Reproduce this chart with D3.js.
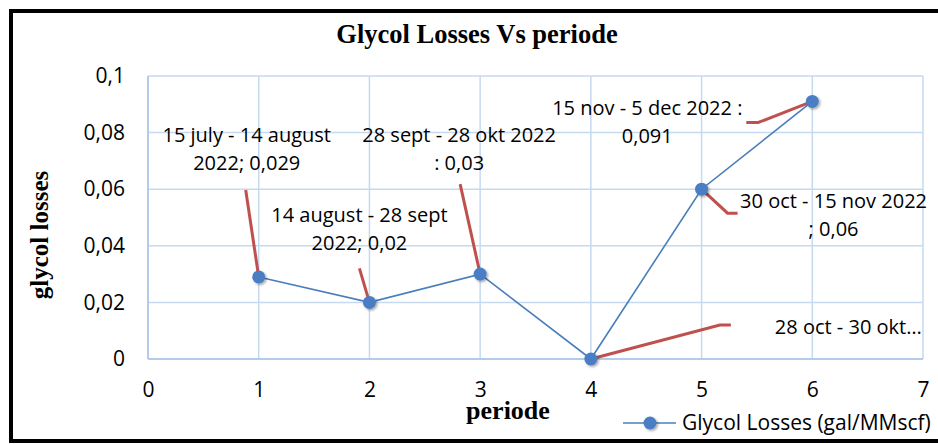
<!DOCTYPE html>
<html>
<head>
<meta charset="utf-8">
<script src="https://cdn.jsdelivr.net/npm/d3@7"></script>
<style>
  body { margin: 0; background: #fff; }
  svg { display: block; }
</style>
</head>
<body>
<svg id="chart" width="938" height="444"></svg>
<script>
// data
const periods = [1, 2, 3, 4, 5, 6]
const losses = [0.029, 0.02, 0.03, 0, 0.06, 0.091]
const labelLines = [
    ["15 july - 14 august", "2022; 0,029"],
    ["14 august - 28 sept", "2022; 0,02"],
    ["28 sept - 28 okt 2022", ": 0,03"],
    ["28 oct - 30 okt…"],
    ["30 oct - 15 nov 2022", "; 0,06"],
    ["15 nov - 5 dec 2022 :", "0,091"]
]
const xTicks = [0, 1, 2, 3, 4, 5, 6, 7]
const yTicks = [0, 0.02, 0.04, 0.06, 0.08, 0.1]

// label placement (offsets from the point, px) and leader line elbows
const labelPos = [
    { dx: -12, dy: -135, lead: [[-13, -87]] },
    { dx: -10, dy: -80, lead: [[-10, -34]] },
    { dx: -21, dy: -132, lead: [[-20, -90]] },
    { dx: 184, dy: -25, anchor: "start", lead: [[129, -34], [140, -34]] },
    { dx: 132, dy: 19, lead: [[26, 24], [36, 24]] },
    { dx: -165, dy: 14, lead: [[-54, 21], [-66, 21]] }
]

const svg = d3.select("#chart")
const W = 938
const mLeft = 148, mRight = 923, mTop = 76, mBottom = 359
const sans = "'Open Sans', 'Liberation Sans', sans-serif"
const serif = "'Liberation Serif', 'DejaVu Serif', serif"

const x = d3.scaleLinear().domain([0, 7]).range([mLeft, mRight])
const y = d3.scaleLinear().domain([0, 0.1]).range([mBottom, mTop])

const fmt = v => String(+v.toFixed(2)).replace(".", ",")

// outer frame
svg.append("rect")
    .attr("x", 11).attr("y", 11)
    .attr("width", W).attr("height", 430)
    .attr("fill", "#fff")
    .attr("stroke", "#000")
    .attr("stroke-width", 4)

// title
svg.append("text")
    .attr("x", 477).attr("y", 43)
    .attr("text-anchor", "middle")
    .style("font-family", serif)
    .style("font-weight", "bold")
    .style("font-size", "26.5px")
    .text("Glycol Losses Vs periode")

// grid
const grid = svg.append("g")
grid.selectAll(".gy").data(yTicks).enter().append("line")
    .attr("x1", mLeft).attr("x2", mRight)
    .attr("y1", d => y(d)).attr("y2", d => y(d))
    .attr("stroke", "#c6d9f1").attr("stroke-width", 1.5)
grid.selectAll(".gx").data(xTicks).enter().append("line")
    .attr("x1", d => x(d)).attr("x2", d => x(d))
    .attr("y1", mTop).attr("y2", mBottom)
    .attr("stroke", "#c6d9f1").attr("stroke-width", 1.5)
// axis base lines a bit stronger
svg.append("line")
    .attr("x1", mLeft).attr("x2", mRight).attr("y1", mBottom).attr("y2", mBottom)
    .attr("stroke", "#a9c4e8").attr("stroke-width", 1.5)
svg.append("line")
    .attr("x1", mLeft).attr("x2", mLeft).attr("y1", mTop).attr("y2", mBottom)
    .attr("stroke", "#a9c4e8").attr("stroke-width", 1.5)

// axes (labels only)
const yAxis = svg.append("g")
    .attr("transform", `translate(${mLeft},0)`)
    .call(d3.axisLeft(y).tickValues(yTicks).tickSize(0).tickPadding(23).tickFormat(fmt))
const xAxis = svg.append("g")
    .attr("transform", `translate(0,${mBottom})`)
    .call(d3.axisBottom(x).tickValues(xTicks).tickSize(0).tickPadding(23).tickFormat(d3.format("d")))
for (const ax of [xAxis, yAxis]) {
    ax.select(".domain").remove()
    ax.selectAll("text")
        .style("font-family", sans)
        .style("font-size", "21px")
        .attr("fill", "#000")
}

// axis titles
svg.append("text")
    .attr("transform", "translate(48,235) rotate(-90)")
    .attr("text-anchor", "middle")
    .style("font-family", serif)
    .style("font-weight", "bold")
    .style("font-size", "25px")
    .text("glycol losses")
svg.append("text")
    .attr("x", 508).attr("y", 419)
    .attr("text-anchor", "middle")
    .style("font-family", serif)
    .style("font-weight", "bold")
    .style("font-size", "26px")
    .text("periode")

const pts = periods.map((p, i) => ({ p: p, v: losses[i], lines: labelLines[i], pos: labelPos[i] }))

// shadow filter for markers
const defs = svg.append("defs")
const f = defs.append("filter").attr("id", "shadow").attr("x", "-50%").attr("y", "-50%").attr("width", "200%").attr("height", "200%")
f.append("feDropShadow").attr("dx", 1.5).attr("dy", 1.5).attr("stdDeviation", 1.2).attr("flood-color", "#000").attr("flood-opacity", 0.35)

// leader lines
const leader = d3.line()
svg.append("g").selectAll("path").data(pts).enter().append("path")
    .attr("d", d => {
        const x0 = x(d.p), y0 = y(d.v)
        return leader([[x0, y0]].concat(d.pos.lead.map(q => [x0 + q[0], y0 + q[1]])))
    })
    .attr("fill", "none")
    .attr("stroke", "#c0504d")
    .attr("stroke-width", 3)

// series line
const line = d3.line().x(d => x(d.p)).y(d => y(d.v))
svg.append("path")
    .datum(pts)
    .attr("d", line)
    .attr("fill", "none")
    .attr("stroke", "#4a7ebb")
    .attr("stroke-width", 1.6)

svg.append("g").selectAll("circle").data(pts).enter().append("circle")
    .attr("cx", d => x(d.p)).attr("cy", d => y(d.v))
    .attr("r", 6.5)
    .attr("fill", "#4a7ec4")
    .attr("filter", "url(#shadow)")

// data labels
const lbl = svg.append("g").selectAll("text").data(pts).enter().append("text")
    .attr("x", d => x(d.p) + d.pos.dx)
    .attr("y", d => y(d.v) + d.pos.dy)
    .attr("text-anchor", d => d.pos.anchor || "middle")
    .style("font-family", sans)
    .style("font-size", "20px")
    .attr("fill", "#000")
lbl.each(function (d) {
    const t = d3.select(this)
    d.lines.forEach((s, i) => {
        t.append("tspan")
            .attr("x", x(d.p) + d.pos.dx)
            .attr("dy", i === 0 ? 0 : 28)
            .text(s)
    })
})

// legend
const lg = svg.append("g").attr("transform", "translate(623,423)")
lg.append("line").attr("x1", 0).attr("x2", 53).attr("y1", 0).attr("y2", 0)
    .attr("stroke", "#4a7ebb").attr("stroke-width", 1.6)
lg.append("circle").attr("cx", 27).attr("cy", 0).attr("r", 6.5)
    .attr("fill", "#4a7ec4").attr("filter", "url(#shadow)")
lg.append("text").attr("x", 59).attr("y", 7)
    .style("font-family", sans)
    .style("font-size", "21px")
    .text("Glycol Losses (gal/MMscf)")
</script>
</body>
</html>
